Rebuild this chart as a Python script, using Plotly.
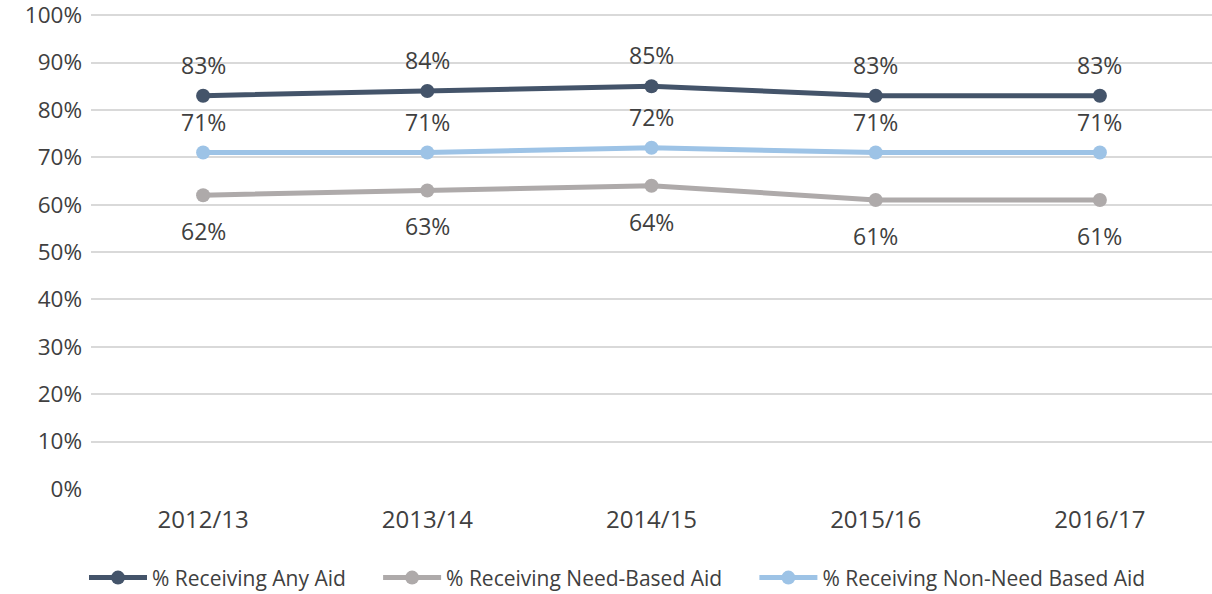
import plotly.graph_objects as go

years = ["2012/13", "2013/14", "2014/15", "2015/16", "2016/17"]
any_aid = [83, 84, 85, 83, 83]
need_based = [62, 63, 64, 61, 61]
non_need_based = [71, 71, 72, 71, 71]
pct_ticks = list(range(0, 101, 10))
pct_labels = [f"{t}%" for t in pct_ticks]

series = [
    ("% Receiving Any Aid", any_aid, "#44546A", 31),
    ("% Receiving Need-Based Aid", need_based, "#AEAAAA", -36),
    ("% Receiving Non-Need Based Aid", non_need_based, "#9DC3E6", 31),
]

FONT = "Open Sans"
TEXT = "#404040"
GAP = "\u00a0" * 5  # extra spacing between legend entries

fig = go.Figure()
annotations = []
for name, vals, color, shift in series:
    fig.add_trace(go.Scatter(
        x=years, y=vals, name=name + GAP, mode="lines+markers",
        line=dict(color=color, width=5),
        marker=dict(color=color, size=14),
    ))
    for yr, v in zip(years, vals):
        annotations.append(dict(
            x=yr, y=v, text=f"{v}%", showarrow=False, yshift=shift,
            font=dict(family=FONT, size=23, color=TEXT),
        ))

fig.update_layout(
    width=1212, height=594,
    margin=dict(l=91, r=0, t=13, b=105, autoexpand=False),
    paper_bgcolor="white", plot_bgcolor="white",
    font=dict(family=FONT, color=TEXT),
    annotations=annotations,
    showlegend=True,
    legend=dict(
        orientation="h", xref="container", yref="container",
        x=84 / 1212, xanchor="left", y=0.027, yanchor="middle",
        font=dict(family=FONT, size=21, color=TEXT),
        traceorder="normal", itemwidth=58,
    ),
    xaxis=dict(
        range=[-0.5, 4.5], showgrid=False, zeroline=False, showline=False,
        ticks="", tickfont=dict(family=FONT, size=24, color=TEXT),
        ticklabelstandoff=14,
    ),
    yaxis=dict(
        range=[0, 100.45], tickmode="array", tickvals=pct_ticks,
        ticktext=pct_labels, ticklabeloverflow="allow", showgrid=True,
        gridcolor="#D9D9D9", gridwidth=2, zeroline=False, showline=False,
        tickfont=dict(family=FONT, size=22.5, color=TEXT),
        ticklabelstandoff=8,
    ),
)

fig.write_html("out.html")
